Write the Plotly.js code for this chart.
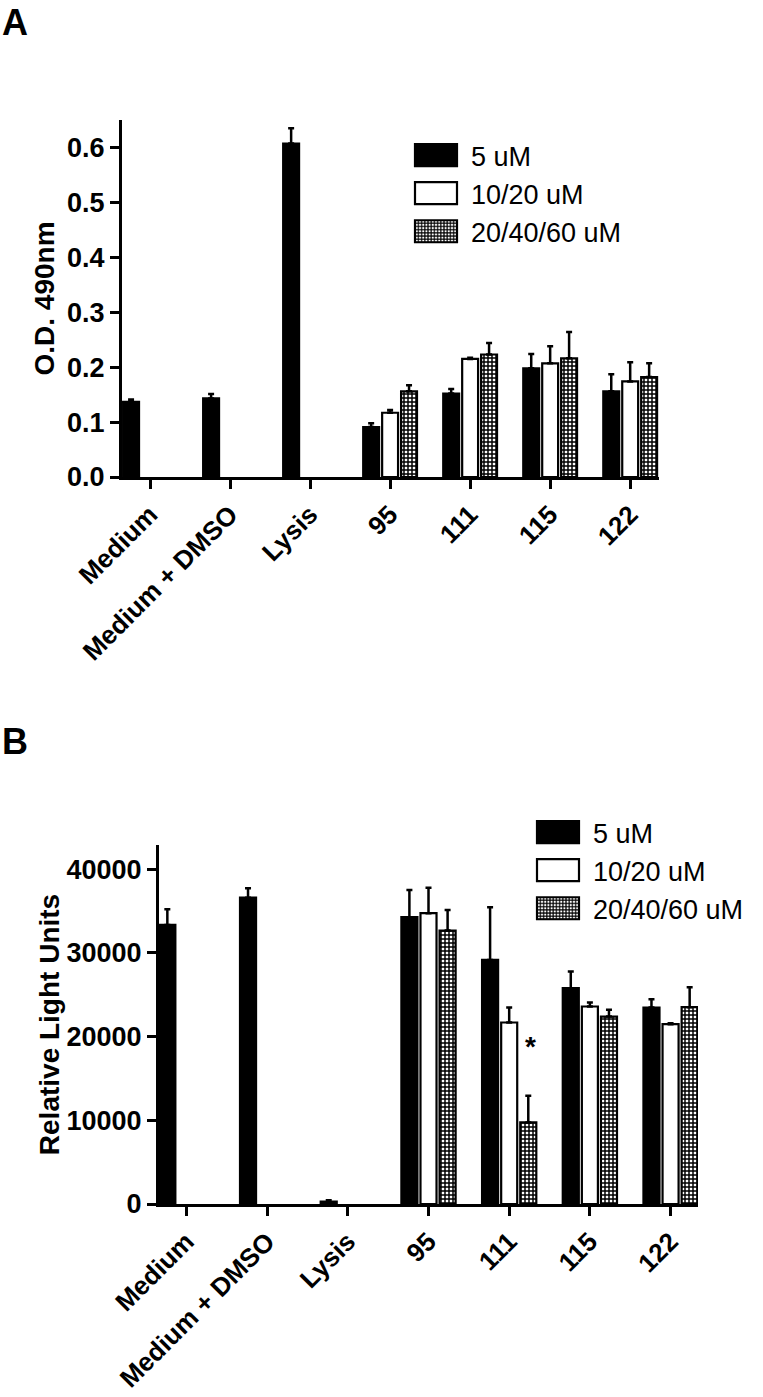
<!DOCTYPE html>
<html>
<head>
<meta charset="utf-8">
<script src="https://cdn.plot.ly/plotly-3.0.1.min.js"></script>
<style>
  html, body { margin: 0; padding: 0; background: #fff; }
  #chart { width: 763px; height: 1397px; }
</style>
</head>
<body>
<div id="chart"></div>
<script>
const categories = ['Medium', 'Medium + DMSO', 'Lysis', '95', '111', '115', '122'];
const seriesNames = ['5 uM', '10/20 uM', '20/40/60 uM'];

// panel A - O.D. 490nm (mean, upper error)
const odLow = [0.137, 0.143, 0.607, 0.091, 0.152, 0.198, 0.156];
const odLowErr = [0.004, 0.008, 0.028, 0.007, 0.008, 0.026, 0.031];
const odMid = [null, null, null, 0.117, 0.215, 0.207, 0.174];
const odMidErr = [null, null, null, 0.005, 0.002, 0.031, 0.035];
const odHigh = [null, null, null, 0.156, 0.223, 0.216, 0.182];
const odHighErr = [null, null, null, 0.011, 0.021, 0.048, 0.025];

// panel B - relative light units (mean, upper error)
const rluLow = [33350, 36610, 300, 34270, 29170, 25790, 23480];
const rluLowErr = [1870, 1120, 150, 3260, 6290, 1990, 1000];
const rluMid = [null, null, null, 34750, 21690, 23600, 21490];
const rluMidErr = [null, null, null, 3050, 1790, 470, 110];
const rluHigh = [null, null, null, 32670, 9750, 22400, 23520];
const rluHighErr = [null, null, null, 2470, 3180, 800, 2390];

// significance mark in panel B
const starCategory = '111';
const starValue = 18800;

const W = 763, H = 1397;
const FONT = 'Liberation Sans, Arial, sans-serif';

function barTrace(idx, y, err, xaxis, yaxis, legend) {
    const trace = {
        x: categories,
        y: y,
        type: 'bar',
        name: seriesNames[idx],
        xaxis: xaxis,
        yaxis: yaxis,
        legend: legend,
        legendgroup: legend + '-' + idx,
        marker: {
            color: idx === 0 ? '#000' : '#fff',
            line: { color: '#000', width: 2.2 },
        },
        error_y: {
            type: 'data',
            symmetric: false,
            array: err,
            arrayminus: err.map(v => (v == null ? null : 0)),
            color: '#000',
            thickness: 2.5,
            width: 3,
        },
    };
    if (idx === 2) {
        trace.marker.pattern = { shape: '+', size: 4, solidity: 0.6, fgcolor: '#000', bgcolor: '#fff', fillmode: 'replace' };
    }
    return trace;
}

const traces = [
    barTrace(0, odLow, odLowErr, 'x', 'y', 'legend'),
    barTrace(1, odMid, odMidErr, 'x', 'y', 'legend'),
    barTrace(2, odHigh, odHighErr, 'x', 'y', 'legend'),
    barTrace(0, rluLow, rluLowErr, 'x2', 'y2', 'legend2'),
    barTrace(1, rluMid, rluMidErr, 'x2', 'y2', 'legend2'),
    barTrace(2, rluHigh, rluHighErr, 'x2', 'y2', 'legend2'),
];

const tickFont = { family: FONT, size: 27, color: '#000', weight: 'bold' };
const xTickFont = { family: FONT, size: 26, color: '#000', weight: 'bold' };
const titleFont = { family: FONT, size: 28, color: '#000', weight: 'bold' };

const xBase = {
    type: 'category',
    showline: true, linewidth: 3, linecolor: '#000',
    ticks: 'outside', ticklen: 9, tickwidth: 3, tickcolor: '#000',
    tickangle: -45, tickfont: xTickFont,
    showgrid: false, zeroline: false, fixedrange: true,
};
const yBase = {
    showline: true, linewidth: 3, linecolor: '#000',
    ticks: 'outside', ticklen: 9, tickwidth: 3, tickcolor: '#000',
    tickfont: tickFont,
    showgrid: false, zeroline: false, fixedrange: true,
};
const legendBase = {
    xanchor: 'left', yanchor: 'top',
    font: { family: FONT, size: 27, color: '#000' },
    itemwidth: 60, tracegroupgap: 12, traceorder: 'normal',
    bgcolor: 'rgba(0,0,0,0)',
};

const layout = {
    width: W,
    height: H,
    margin: { l: 0, r: 0, t: 0, b: 0 },
    paper_bgcolor: '#fff',
    plot_bgcolor: '#fff',
    barmode: 'group',
    bargap: 0.29,
    bargroupgap: 0.16,
    showlegend: true,
    xaxis: { ...xBase, domain: [122 / W, 659 / W], anchor: 'y', range: [-0.35, 6.36] },
    yaxis: {
        ...yBase, domain: [1 - 477 / H, 1 - 120 / H], anchor: 'x',
        range: [0, 0.65], dtick: 0.1, tickformat: '.1f',
        title: { text: 'O.D. 490nm', font: titleFont },
    },
    xaxis2: { ...xBase, domain: [159 / W, 698 / W], anchor: 'y2', range: [-0.34, 6.34] },
    yaxis2: {
        ...yBase, domain: [1 - 1204 / H, 1 - 845 / H], anchor: 'x2',
        range: [0, 42900], dtick: 10000, tickformat: 'd',
        title: { text: 'Relative Light Units', font: titleFont },
    },
    legend: { ...legendBase, x: 401 / W, y: 1 - 131 / H },
    legend2: { ...legendBase, x: 523 / W, y: 1 - 808 / H },
    annotations: [
        { text: 'A', xref: 'paper', yref: 'paper', x: 0, y: 1, xanchor: 'left', yanchor: 'top',
          showarrow: false, font: { family: FONT, size: 36, color: '#000', weight: 'bold' } },
        { text: 'B', xref: 'paper', yref: 'paper', x: 0, y: 1 - 719 / H, xanchor: 'left', yanchor: 'top',
          showarrow: false, font: { family: FONT, size: 36, color: '#000', weight: 'bold' } },
        { text: '*', xref: 'x2', yref: 'y2', x: categories.indexOf(starCategory), y: starValue, xshift: 21,
          showarrow: false, font: { family: FONT, size: 28, color: '#000', weight: 'bold' } },
    ],
};

Plotly.newPlot('chart', traces, layout, { staticPlot: true }).then(gd => {
    // widen the legend swatches to match the original figure
    gd.querySelectorAll('.legendpoints path').forEach(p => {
        p.setAttribute('d', 'M21,11H-21V-11H21Z');
    });
});
</script>
</body>
</html>
